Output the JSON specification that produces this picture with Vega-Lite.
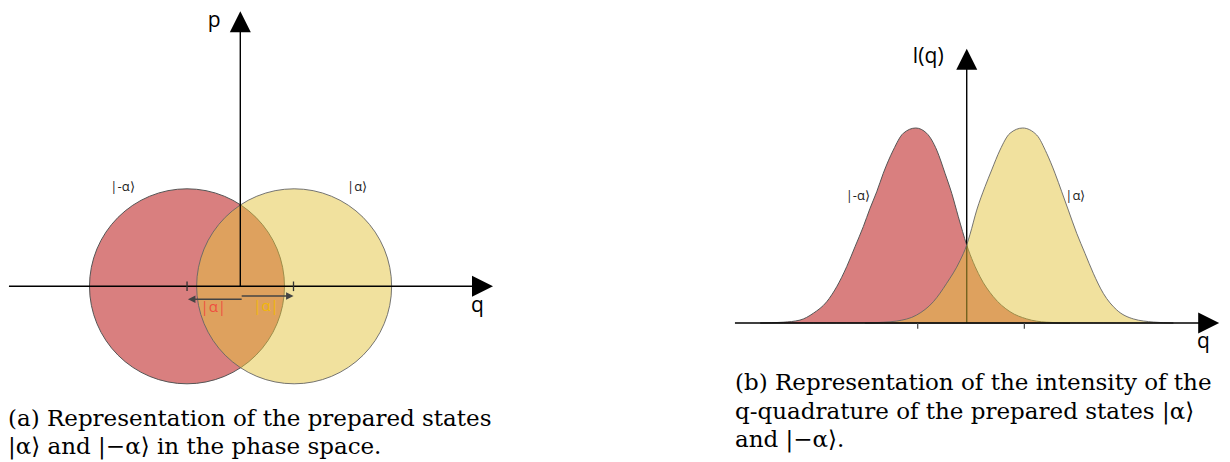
{
  "$schema": "https://vega.github.io/schema/vega-lite/v6.json",
  "padding": 0,
  "background": "white",
  "spacing": 225,
  "bounds": "flush",
  "config": {"view": {"stroke": null}, "font": "Open Sans"},
  "datasets": {
    "circles": [{"state": "minus", "q": -1.0, "p": 0}, {"state": "plus", "q": 1.01, "p": 0}],
    "axesA": [{"q": -4.34, "p": 0, "q2": 4.4, "p2": 0}, {"q": 0, "p": 0, "q2": 0, "p2": 4.78}],
    "ticksA": [{"q": -0.999, "p": -0.09, "p2": 0.09}, {"q": 0.998, "p": -0.09, "p2": 0.09}],
    "headsA": [{"q": 4.544, "p": 0, "dir": "right"}, {"q": 0, "p": 4.964, "dir": "up"}],
    "shiftA": [{"q": 0.026, "p": -0.244, "q2": -0.88, "p2": -0.244}, {"q": 0.026, "p": -0.182, "q2": 0.9, "p2": -0.182}],
    "smallHeadsA": [{"q": -0.912, "p": -0.244, "dir": "left"}, {"q": 0.929, "p": -0.182, "dir": "right"}],
    "axisLabelsA": [{"q": -0.49, "p": 4.865, "label": "p"}, {"q": 4.45, "p": -0.482, "label": "q"}],
    "stateLabelsA": [{"q": -2.21, "p": 1.854, "label": "|-α⟩"}, {"q": 2.19, "p": 1.854, "label": "|α⟩"}],
    "ampLabelsA": [{"q": -0.507, "p": -0.394, "label": "|α|", "c": "minus"}, {"q": 0.482, "p": -0.364, "label": "|α|", "c": "plus"}],
    "redCurve": [
      {"q": -3.86, "I": 0}, {"q": -3.43, "I": 0.004}, {"q": -3.116, "I": 0.015}, {"q": -2.867, "I": 0.05},
      {"q": -2.617, "I": 0.109}, {"q": -2.43, "I": 0.186}, {"q": -2.243, "I": 0.289}, {"q": -2.088, "I": 0.391},
      {"q": -1.933, "I": 0.494}, {"q": -1.807, "I": 0.588}, {"q": -1.682, "I": 0.673}, {"q": -1.559, "I": 0.768},
      {"q": -1.372, "I": 0.887}, {"q": -1.185, "I": 0.973}, {"q": -0.953, "I": 1.0}, {"q": -0.748, "I": 0.973},
      {"q": -0.561, "I": 0.887}, {"q": -0.406, "I": 0.768}, {"q": -0.28, "I": 0.665}, {"q": -0.157, "I": 0.545},
      {"q": 0, "I": 0.4}, {"q": 0.249, "I": 0.237}, {"q": 0.497, "I": 0.135}, {"q": 0.809, "I": 0.058},
      {"q": 1.121, "I": 0.021}, {"q": 1.495, "I": 0.004}, {"q": 1.93, "I": 0}
    ],
    "yellowCurve": [
      {"q": -1.9, "I": 0}, {"q": -1.559, "I": 0.004}, {"q": -1.308, "I": 0.01}, {"q": -0.935, "I": 0.041},
      {"q": -0.624, "I": 0.109}, {"q": -0.374, "I": 0.204}, {"q": -0.125, "I": 0.32}, {"q": 0, "I": 0.4},
      {"q": 0.062, "I": 0.455}, {"q": 0.187, "I": 0.579}, {"q": 0.342, "I": 0.699}, {"q": 0.467, "I": 0.785},
      {"q": 0.622, "I": 0.887}, {"q": 0.809, "I": 0.973}, {"q": 1.047, "I": 1.0}, {"q": 1.308, "I": 0.964},
      {"q": 1.495, "I": 0.87}, {"q": 1.65, "I": 0.768}, {"q": 1.776, "I": 0.673}, {"q": 1.899, "I": 0.579},
      {"q": 2.056, "I": 0.46}, {"q": 2.211, "I": 0.357}, {"q": 2.366, "I": 0.255}, {"q": 2.553, "I": 0.152},
      {"q": 2.804, "I": 0.067}, {"q": 3.114, "I": 0.021}, {"q": 3.488, "I": 0.005}, {"q": 3.862, "I": 0}
    ],
    "vAxisB": [{"q": 0, "I": 0, "I2": 1.31}],
    "hAxisB": [{"q": -4.332, "I": 0, "q2": 4.37, "I2": 0}],
    "ticksB": [{"q": -0.916, "I": -0.03, "I2": 0}, {"q": 1.077, "I": -0.03, "I2": 0}],
    "headsB": [{"q": 4.523, "I": 0, "dir": "right"}, {"q": 0, "I": 1.352, "dir": "up"}],
    "axisLabelsB": [{"q": -0.723, "I": 1.332, "label": "I(q)"}, {"q": 4.422, "I": -0.128, "label": "q"}],
    "stateLabelsB": [{"q": -2.035, "I": 0.65, "label": "|-α⟩"}, {"q": 2.03, "I": 0.65, "label": "|α⟩"}]
  },
  "hconcat": [
    {
      "width": 500,
      "height": 392,
      "title": {
        "text": ["(a) Representation of the prepared states", "|α⟩ and |−α⟩ in the phase space."],
        "orient": "bottom", "anchor": "start", "dx": 8, "offset": 15.5,
        "font": "DejaVu Serif", "fontSize": 23, "fontWeight": "normal", "lineHeight": 28.7, "color": "black"
      },
      "encoding": {
        "x": {"field": "q", "type": "quantitative", "scale": {"domain": [-4.508, 4.872], "nice": false, "zero": false}, "axis": null},
        "y": {"field": "p", "type": "quantitative", "scale": {"domain": [-1.983, 5.371], "nice": false, "zero": false}, "axis": null}
      },
      "layer": [
        {
          "data": {"name": "circles"},
          "transform": [{"filter": "datum.state == 'minus'"}],
          "mark": {"type": "point", "shape": "circle", "filled": true, "size": 38025, "fill": "#d97f7f", "fillOpacity": 1, "stroke": "#555555", "strokeWidth": 1, "opacity": 1}
        },
        {
          "data": {"name": "circles"},
          "transform": [{"filter": "datum.state == 'plus'"}],
          "mark": {"type": "point", "shape": "circle", "filled": true, "size": 38025, "fill": "#e3c33d", "fillOpacity": 0.5, "stroke": "#666666", "strokeWidth": 1, "strokeOpacity": 0.9, "opacity": 1}
        },
        {
          "data": {"name": "axesA"},
          "mark": {"type": "rule", "color": "black", "strokeWidth": 1.4},
          "encoding": {"x2": {"field": "q2"}, "y2": {"field": "p2"}}
        },
        {
          "data": {"name": "ticksA"},
          "mark": {"type": "rule", "color": "#333333", "strokeWidth": 1.3},
          "encoding": {"y2": {"field": "p2"}}
        },
        {
          "data": {"name": "headsA"},
          "mark": {"type": "point", "filled": true, "color": "black", "size": 441, "opacity": 1, "strokeWidth": 0},
          "encoding": {"shape": {"field": "dir", "type": "nominal", "scale": {"domain": ["right", "up", "left"], "range": ["M-1,-1L1,0L-1,1Z", "M-1,1L0,-1L1,1Z", "M1,-1L-1,0L1,1Z"]}, "legend": null}}
        },
        {
          "data": {"name": "shiftA"},
          "mark": {"type": "rule", "color": "#444444", "strokeWidth": 1.6},
          "encoding": {"x2": {"field": "q2"}, "y2": {"field": "p2"}}
        },
        {
          "data": {"name": "smallHeadsA"},
          "mark": {"type": "point", "filled": true, "color": "#444444", "size": 56, "opacity": 1, "strokeWidth": 0},
          "encoding": {"shape": {"field": "dir", "type": "nominal", "scale": {"domain": ["right", "up", "left"], "range": ["M-1,-1L1,0L-1,1Z", "M-1,1L0,-1L1,1Z", "M1,-1L-1,0L1,1Z"]}, "legend": null}}
        },
        {
          "data": {"name": "axisLabelsA"},
          "mark": {"type": "text", "fontSize": 21, "font": "Open Sans", "color": "black", "align": "center", "baseline": "alphabetic"},
          "encoding": {"text": {"field": "label"}}
        },
        {
          "data": {"name": "stateLabelsA"},
          "mark": {"type": "text", "fontSize": 13, "font": "Open Sans", "color": "#222222", "align": "center", "baseline": "middle"},
          "encoding": {"text": {"field": "label"}}
        },
        {
          "data": {"name": "ampLabelsA"},
          "mark": {"type": "text", "fontSize": 15, "font": "Open Sans", "align": "center", "baseline": "middle"},
          "encoding": {
            "text": {"field": "label"},
            "color": {"field": "c", "type": "nominal", "scale": {"domain": ["minus", "plus"], "range": ["#ef5040", "#f2b807"]}, "legend": null}
          }
        }
      ]
    },
    {
      "width": 505,
      "height": 360,
      "title": {
        "text": ["(b) Representation of the intensity of the", "q-quadrature of the prepared states |α⟩", "and |−α⟩."],
        "orient": "bottom", "anchor": "start", "dx": 10, "offset": 12,
        "font": "DejaVu Serif", "fontSize": 23, "fontWeight": "normal", "lineHeight": 28.7, "color": "black"
      },
      "encoding": {
        "x": {"field": "q", "type": "quantitative", "scale": {"domain": [-4.518, 4.921], "nice": false, "zero": false}, "axis": null},
        "y": {"field": "I", "type": "quantitative", "scale": {"domain": [-0.1897, 1.6564], "nice": false, "zero": false}, "axis": null}
      },
      "layer": [
        {
          "data": {"name": "redCurve"},
          "mark": {"type": "area", "interpolate": "monotone", "fill": "#d97f7f", "fillOpacity": 1, "stroke": "#555555", "strokeWidth": 1},
          "encoding": {"y2": {"datum": 0}}
        },
        {
          "data": {"name": "vAxisB"},
          "mark": {"type": "rule", "color": "black", "strokeWidth": 1.4},
          "encoding": {"y2": {"field": "I2"}}
        },
        {
          "data": {"name": "yellowCurve"},
          "mark": {"type": "area", "interpolate": "monotone", "fill": "#e3c33d", "fillOpacity": 0.5, "stroke": "#666666", "strokeWidth": 1, "strokeOpacity": 0.9},
          "encoding": {"y2": {"datum": 0}}
        },
        {
          "data": {"name": "hAxisB"},
          "mark": {"type": "rule", "color": "black", "strokeWidth": 1.4},
          "encoding": {"x2": {"field": "q2"}, "y2": {"field": "I2"}}
        },
        {
          "data": {"name": "ticksB"},
          "mark": {"type": "rule", "color": "#444444", "strokeWidth": 1.2},
          "encoding": {"y2": {"field": "I2"}}
        },
        {
          "data": {"name": "headsB"},
          "mark": {"type": "point", "filled": true, "color": "black", "size": 441, "opacity": 1, "strokeWidth": 0},
          "encoding": {"shape": {"field": "dir", "type": "nominal", "scale": {"domain": ["right", "up", "left"], "range": ["M-1,-1L1,0L-1,1Z", "M-1,1L0,-1L1,1Z", "M1,-1L-1,0L1,1Z"]}, "legend": null}}
        },
        {
          "data": {"name": "axisLabelsB"},
          "mark": {"type": "text", "fontSize": 21, "font": "Open Sans", "color": "black", "align": "center", "baseline": "alphabetic"},
          "encoding": {"text": {"field": "label"}}
        },
        {
          "data": {"name": "stateLabelsB"},
          "mark": {"type": "text", "fontSize": 13, "font": "Open Sans", "color": "#222222", "align": "center", "baseline": "middle"},
          "encoding": {"text": {"field": "label"}}
        }
      ]
    }
  ]
}
